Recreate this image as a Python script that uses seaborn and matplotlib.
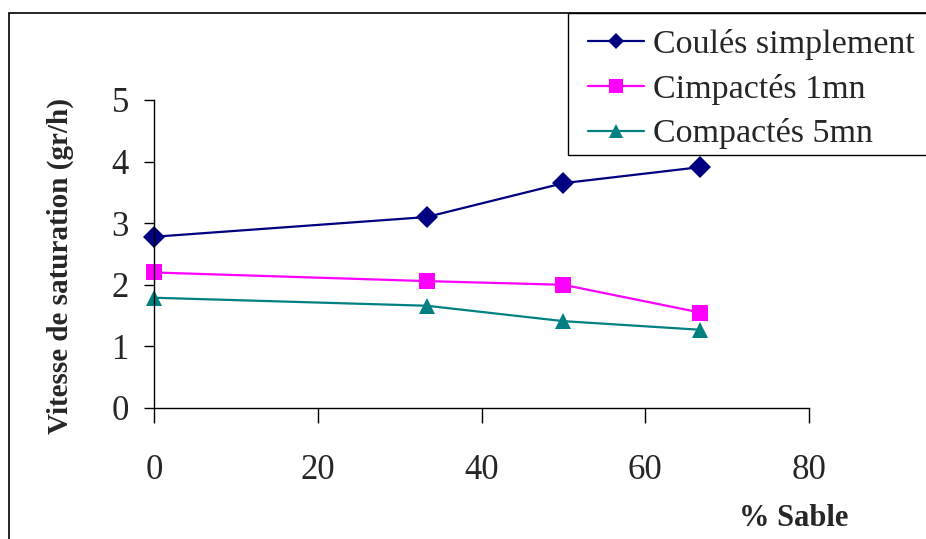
import matplotlib.pyplot as plt
import pandas as pd
import seaborn as sns
from matplotlib.patches import Rectangle

sable = [0, 33.3, 50, 66.7]
coules = [2.78, 3.10, 3.65, 3.91]
cimpactes_1mn = [2.20, 2.06, 2.00, 1.55]
compactes_5mn = [1.79, 1.66, 1.41, 1.27]

series_names = ['Coulés simplement', 'Cimpactés 1mn', 'Compactés 5mn']
colors = ['#000080', '#FF00FF', '#008080']
markers = ['D', 's', '^']

df = pd.DataFrame({
    'sable': sable * 3,
    'vitesse': coules + cimpactes_1mn + compactes_5mn,
    'serie': [n for n in series_names for _ in sable],
})

sns.set_style('white')
plt.rcParams['font.family'] = ['Liberation Serif', 'DejaVu Serif']

fig = plt.figure(figsize=(9.26, 5.39), dpi=100)
W, H = 926, 539
ax = fig.add_axes([154 / W, 1 - 408 / H, (809 - 154) / W, (408 - 100) / H])

sns.lineplot(
    data=df, x='sable', y='vitesse', hue='serie', style='serie',
    hue_order=series_names, style_order=series_names,
    palette=colors, markers=markers, dashes=False,
    markersize=11, linewidth=1.6, markeredgewidth=0, ax=ax, legend=False,
)
for line in ax.lines:
    line.set_clip_on(False)

ax.set_xlim(0, 80)
ax.set_ylim(0, 5)
ax.set_xticks([0, 20, 40, 60, 80])
ax.set_yticks([0, 1, 2, 3, 4, 5])
ax.tick_params(axis='both', labelsize=25, direction='out', width=1,
               color='black', left=True, bottom=True)
ax.tick_params(axis='x', length=11, pad=22)
ax.tick_params(axis='y', length=7, pad=11)
for side in ['top', 'right']:
    ax.spines[side].set_visible(False)
for side in ['left', 'bottom']:
    ax.spines[side].set_color('black')
    ax.spines[side].set_linewidth(1)

ax.set_xlabel('')
ax.set_ylabel('Vitesse de saturation (gr/h)', fontsize=21, fontweight='bold')
ax.yaxis.set_label_coords((74 - 154) / (809 - 154), 0.46)
fig.text(848 / W, 1 - 519 / H, '% Sable', fontsize=22, fontweight='bold',
         ha='right', va='center')

# outer chart-area border (cut by figure edges)
fig.patches.append(Rectangle((9 / W, -0.05), 1.1, 1 - 13 / H + 0.05,
                             transform=fig.transFigure, fill=False,
                             edgecolor='black', linewidth=1.2))

# legend box runs past the right edge, like the original
fig.patches.append(Rectangle((568 / W, 1 - 155 / H), 0.5, (155 - 13) / H,
                             transform=fig.transFigure, facecolor='white',
                             edgecolor='black', linewidth=1, zorder=5))

handles = [
    plt.Line2D([], [], color=c, marker=m, markersize=10 if m != 'D' else 8,
               linewidth=1.6, markeredgewidth=0)
    for c, m in zip(colors, markers)
]
leg = fig.legend(handles, series_names, loc='upper left',
                 bbox_to_anchor=(578 / W, 1 - 19 / H), borderaxespad=0,
                 fontsize=24.5, frameon=False, borderpad=0.3,
                 handlelength=1.65, handletextpad=0.25, labelspacing=0.4)
leg.set_zorder(6)

fig.savefig('out.png', dpi=100)
